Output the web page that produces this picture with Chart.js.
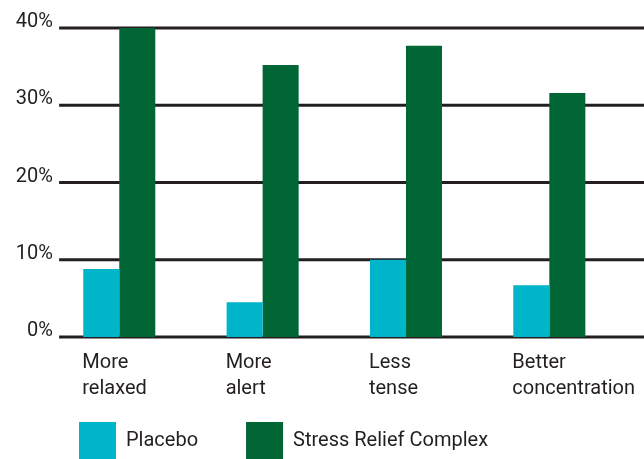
<!DOCTYPE html>
<html>
<head>
<meta charset="utf-8">
<script src="https://cdn.jsdelivr.net/npm/chart.js@4/dist/chart.umd.min.js"></script>
<style>
	html, body { margin: 0; padding: 0; background: #fff; overflow: hidden; }
	#wrap { width: 644px; height: 459px; }
</style>
</head>
<body>
<div id="wrap"><canvas id="stress-chart" width="644" height="459"></canvas></div>
<script>
Chart.defaults.font.family = 'Roboto';
Chart.defaults.font.size = 20;
Chart.defaults.color = '#231f20';

var categories = [['More', 'relaxed'], ['More', 'alert'], ['Less', 'tense'], ['Better', 'concentration']];
var placeboValues = [8.8, 4.5, 10.0, 6.7];
var complexValues = [40.0, 35.2, 37.7, 31.6];
var yTicks = [0, 10, 20, 30, 40];

function pct(v) { return v + '%'; }

// y labels are mirrored (so they are not clipped) and right aligned at x=53
var yAxisWidth = 16.6;
var measure = document.createElement('canvas').getContext('2d');
measure.font = '20px Roboto';
var widestY = Math.max.apply(null, yTicks.map(function(v) { return measure.measureText(pct(v)).width; }));
var yLabelPad = 53 - (31 + yAxisWidth) - widestY;

// horizontal rules, drawn behind the bars and a bit right of the plot's left edge
var ruleLines = {
	id: 'ruleLines',
	beforeDatasetsDraw: function(chart) {
		var ctx = chart.ctx;
		var y = chart.scales.y;
		ctx.save();
		ctx.strokeStyle = '#231f20';
		ctx.lineWidth = 3;
		yTicks.forEach(function(v) {
			var py = y.getPixelForValue(v);
			ctx.beginPath();
			ctx.moveTo(chart.chartArea.left + 11.5, py);
			ctx.lineTo(chart.width, py);
			ctx.stroke();
		});
		ctx.restore();
	}
};

const ctx = document.getElementById('stress-chart').getContext('2d');
const myChart = new Chart(ctx, {
	type: 'bar',
	data: {
		labels: categories,
		datasets: [
			{
				label: 'Placebo',
				data: placeboValues,
				backgroundColor: '#00b4ca',
				borderWidth: 0
			},
			{
				label: 'Stress Relief Complex',
				data: complexValues,
				backgroundColor: '#006636',
				borderWidth: 0
			}
		]
	},
	options: {
		responsive: false,
		animation: false,
		layout: {
			padding: { top: 28, left: 31, right: 23, bottom: 0 }
		},
		datasets: {
			bar: { barPercentage: 1, categoryPercentage: 0.5025 }
		},
		plugins: {
			tooltip: { enabled: false },
			legend: {
				position: 'bottom',
				align: 'start',
				maxHeight: 85,
				labels: {
					boxWidth: 37,
					boxHeight: 37,
					padding: 48,
					color: '#231f20',
					font: { size: 20 }
				}
			}
		},
		scales: {
			x: {
				grid: { display: false },
				border: { display: false },
				ticks: {
					align: 'start',
					mirror: true,
					labelOffset: -37,
					padding: -39,
					autoSkip: false,
					maxRotation: 0,
					font: { size: 20, lineHeight: 1.3 }
				},
				afterFit: function(scale) {
					scale.height = 37;
					scale.paddingLeft = 0;
					scale.paddingRight = 0;
				}
			},
			y: {
				min: 0,
				max: 40,
				grid: { display: false },
				border: { display: false },
				ticks: {
					stepSize: 10,
					mirror: true,
					crossAlign: 'far',
					padding: yLabelPad,
					labelOffset: -6,
					font: { size: 20 },
					callback: pct
				},
				afterFit: function(scale) {
					scale.width = yAxisWidth;
				}
			}
		}
	},
	plugins: [ruleLines]
});
</script>
</body>
</html>
